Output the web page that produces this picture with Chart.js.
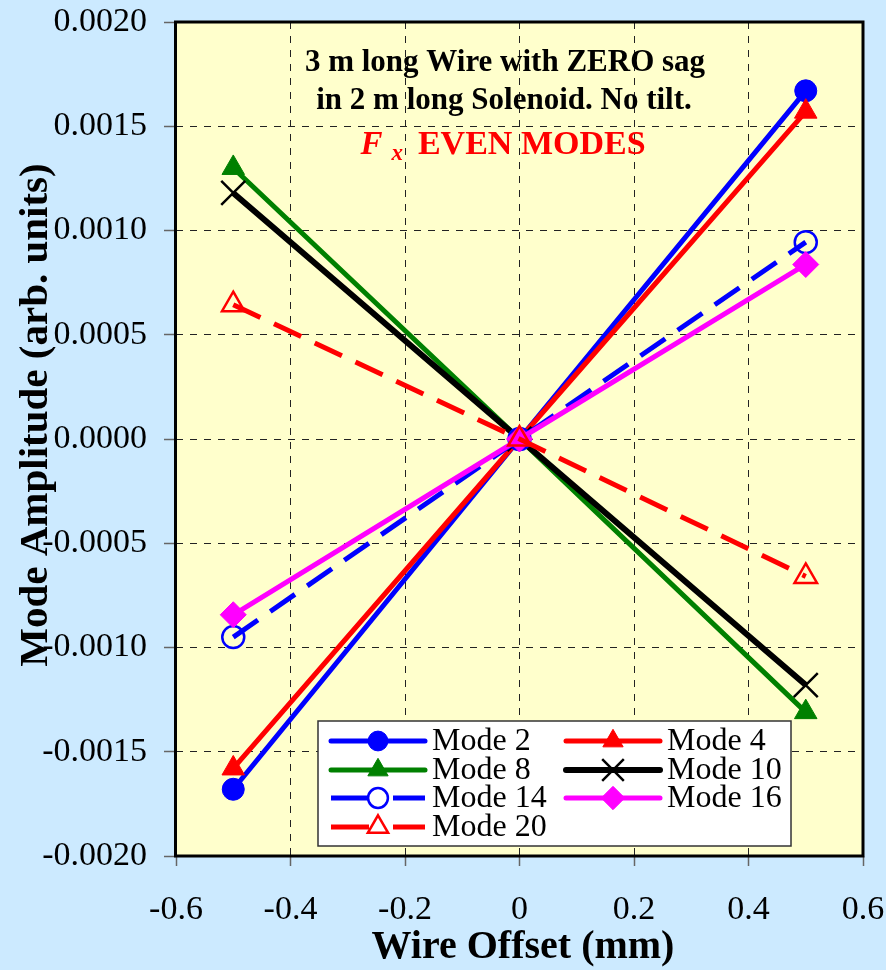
<!DOCTYPE html>
<html><head><meta charset="utf-8">
<script src="https://cdn.jsdelivr.net/npm/chart.js@4/dist/chart.umd.min.js"></script>
<style>html,body{margin:0;padding:0;background:#cceaff;}#wrap{width:886px;height:970px;position:relative;}</style>
</head><body><div id="wrap"><canvas id="c"></canvas></div>
<script>
// ---- data ----
const xValues = [-0.5, 0, 0.5];
const seriesNames = ['Mode 2', 'Mode 4', 'Mode 8', 'Mode 10', 'Mode 14', 'Mode 16', 'Mode 20'];
const mode2 = [-0.00168, 0, 0.00167];
const mode4 = [-0.00158, 0, 0.00157];
const mode8 = [0.00130, 0, -0.00131];
const mode10 = [0.00118, 0, -0.00118];
const mode14 = [-0.00095, 0, 0.000944];
const mode16 = [-0.000843, 0, 0.000837];
const mode20 = [0.000644, 0, -0.000659];
const seriesValues = [mode2, mode4, mode8, mode10, mode14, mode16, mode20];
const xTickValues = [-0.6, -0.4, -0.2, 0, 0.2, 0.4, 0.6];
const xTickLabels = ['-0.6', '-0.4', '-0.2', '0', '0.2', '0.4', '0.6'];
const yTickValues = [-0.002, -0.0015, -0.001, -0.0005, 0, 0.0005, 0.001, 0.0015, 0.002];
const yTickLabels = ['-0.0020', '-0.0015', '-0.0010', '-0.0005', '0.0000', '0.0005', '0.0010', '0.0015', '0.0020'];
const titleLine1 = '3 m long Wire with ZERO sag';
const titleLine2 = 'in 2 m long Solenoid. No tilt.';
const titleF = 'F';
const titleSub = 'x';
const titleRest = 'EVEN MODES';
const xTitle = 'Wire Offset (mm)';
const yTitle = 'Mode Amplitude (arb. units)';

// ---- styles ----
const SERIF = '"Liberation Serif", "Times New Roman", serif';
const styles = [
  {color: '#0000ff', point: 'circle', r: 11, filled: true, dash: [], width: 5},
  {color: '#ff0000', point: 'triangle', r: 13, filled: true, dash: [], width: 5},
  {color: '#008000', point: 'triangle', r: 13, filled: true, dash: [], width: 5},
  {color: '#000000', point: 'crossRot', r: 17, filled: false, dash: [], width: 6, pbw: 2.5},
  {color: '#0000ff', point: 'circle', r: 11, filled: false, dash: [30, 15], width: 5, pbw: 2.5},
  {color: '#ff00ff', point: 'rectRot', r: 13, filled: true, dash: [], width: 5},
  {color: '#ff0000', point: 'triangle', r: 13, filled: false, dash: [30, 15], width: 5, pbw: 2.5}
];

const datasets = seriesNames.map((name, i) => {
  const s = styles[i];
  return {
    label: name,
    data: xValues.map((x, j) => ({x: x, y: seriesValues[i][j]})),
    showLine: true,
    borderColor: s.color,
    borderWidth: s.width,
    borderDash: s.dash,
    pointStyle: s.point,
    pointRadius: s.r,
    pointHoverRadius: s.r,
    pointBackgroundColor: s.filled ? s.color : 'rgba(0,0,0,0)',
    pointBorderColor: s.color,
    pointBorderWidth: s.pbw || 1,
    order: seriesNames.length - i,
    tension: 0
  };
});

const legendLayout = {box: [318, 721, 791, 846], cols: [330, 565], rows: [741, 770, 798, 827]};

const decor = {
  id: 'decor',
  beforeDraw(chart) {
    const {ctx, chartArea: a} = chart;
    ctx.save();
    ctx.fillStyle = '#cceaff';
    ctx.fillRect(0, 0, chart.width, chart.height);
    ctx.fillStyle = '#ffffcc';
    ctx.fillRect(a.left, a.top, a.right - a.left, a.bottom - a.top);
    ctx.restore();
  },
  beforeDatasetsDraw(chart) {
    const {ctx, chartArea: a} = chart;
    ctx.save();
    ctx.strokeStyle = '#000';
    ctx.lineWidth = 3;
    ctx.strokeRect(a.left - 0.5, a.top, a.right - a.left + 0.5, a.bottom - a.top);
    ctx.restore();
  },
  afterDatasetsDraw(chart) {
    const ctx = chart.ctx;
    ctx.save();
    // inner title
    ctx.fillStyle = '#000';
    ctx.textAlign = 'center';
    ctx.textBaseline = 'middle';
    ctx.font = 'bold 31px ' + SERIF;
    ctx.fillText(titleLine1, 505, 63);
    ctx.fillText(titleLine2, 504, 101);
    // third line
    ctx.fillStyle = '#ff0000';
    ctx.textAlign = 'left';
    ctx.font = 'italic bold 33px ' + SERIF;
    const wF = ctx.measureText(titleF).width;
    ctx.font = 'italic bold 23px ' + SERIF;
    const wX = ctx.measureText(titleSub).width;
    ctx.font = 'bold 34px ' + SERIF;
    const wR = ctx.measureText(titleRest).width;
    const gap1 = 9, gap2 = 15;
    let x = 503 - (wF + gap1 + wX + gap2 + wR) / 2;
    ctx.font = 'italic bold 33px ' + SERIF;
    ctx.fillText(titleF, x, 145);
    x += wF + gap1;
    ctx.font = 'italic bold 23px ' + SERIF;
    ctx.fillText(titleSub, x, 154);
    x += wX + gap2;
    ctx.font = 'bold 34px ' + SERIF;
    ctx.fillText(titleRest, x, 145);

    // legend
    const b = legendLayout.box;
    ctx.fillStyle = '#ffffff';
    ctx.fillRect(b[0], b[1], b[2] - b[0], b[3] - b[1]);
    ctx.strokeStyle = '#333';
    ctx.lineWidth = 1.5;
    ctx.strokeRect(b[0], b[1], b[2] - b[0], b[3] - b[1]);
    chart.data.datasets.forEach((ds, i) => {
      const s = styles[i];
      const cx = legendLayout.cols[i % 2];
      const cy = legendLayout.rows[Math.floor(i / 2)];
      ctx.save();
      ctx.strokeStyle = s.color;
      ctx.lineWidth = s.width;
      if (s.dash.length) { ctx.setLineDash([38, 24]); ctx.lineCap = 'butt'; }
      else { ctx.lineCap = 'round'; }
      ctx.beginPath();
      ctx.moveTo(cx + 1, cy);
      ctx.lineTo(cx + 95, cy);
      ctx.stroke();
      ctx.restore();
      ctx.save();
      ctx.fillStyle = s.filled ? s.color : '#ffffff';
      ctx.strokeStyle = s.color;
      ctx.lineWidth = s.pbw || 1;
      Chart.helpers.drawPoint(ctx, {pointStyle: s.point, radius: s.r * 0.9, rotation: 0, borderWidth: s.pbw || 1}, cx + 48, cy);
      ctx.restore();
      ctx.fillStyle = '#000';
      ctx.textAlign = 'left';
      ctx.textBaseline = 'middle';
      ctx.font = '32px ' + SERIF;
      ctx.fillText(ds.label, cx + 102, cy + 1);
    });

    // axis titles
    ctx.fillStyle = '#000';
    ctx.textAlign = 'center';
    ctx.textBaseline = 'middle';
    ctx.font = 'bold 40px ' + SERIF;
    ctx.fillText(xTitle, 523, 948);
    ctx.translate(36, 415);
    ctx.rotate(-Math.PI / 2);
    ctx.font = 'bold 41px ' + SERIF;
    ctx.fillText(yTitle, 0, 0);
    ctx.restore();
  }
};

new Chart(document.getElementById('c'), {
  type: 'scatter',
  data: {datasets: datasets},
  options: {
    responsive: true,
    maintainAspectRatio: false,
    animation: false,
    layout: {padding: {top: 22, right: 23, left: 0, bottom: 0}},
    plugins: {legend: {display: false}, tooltip: {enabled: false}, title: {display: false}},
    scales: {
      x: {
        type: 'linear', min: -0.6, max: 0.6,
        afterBuildTicks(scale) { scale.ticks = xTickValues.map(v => ({value: v})); },
        afterFit(scale) { scale.height = 114; scale.paddingLeft = 0; scale.paddingRight = 0; },
        ticks: {
          color: '#000', font: {family: SERIF, size: 34}, padding: 24, maxRotation: 0, autoSkip: false,
          callback: (v, i) => xTickLabels[i]
        },
        grid: {color: '#222', lineWidth: 1, tickLength: 10, tickColor: '#666', tickWidth: 1.5, tickBorderDash: []},
        border: {display: false, dash: [7, 7]}
      },
      y: {
        type: 'linear', min: -0.002, max: 0.002,
        afterBuildTicks(scale) { scale.ticks = yTickValues.map(v => ({value: v})); },
        afterFit(scale) { scale.width = 176; scale.paddingTop = 0; scale.paddingBottom = 0; },
        ticks: {
          color: '#000', font: {family: SERIF, size: 34}, padding: 17, autoSkip: false,
          callback: (v, i) => yTickLabels[i]
        },
        grid: {color: '#222', lineWidth: 1, tickLength: 12, tickColor: '#666', tickWidth: 1.5, tickBorderDash: []},
        border: {display: false, dash: [7, 7]}
      }
    }
  },
  plugins: [decor]
});
</script></body></html>
